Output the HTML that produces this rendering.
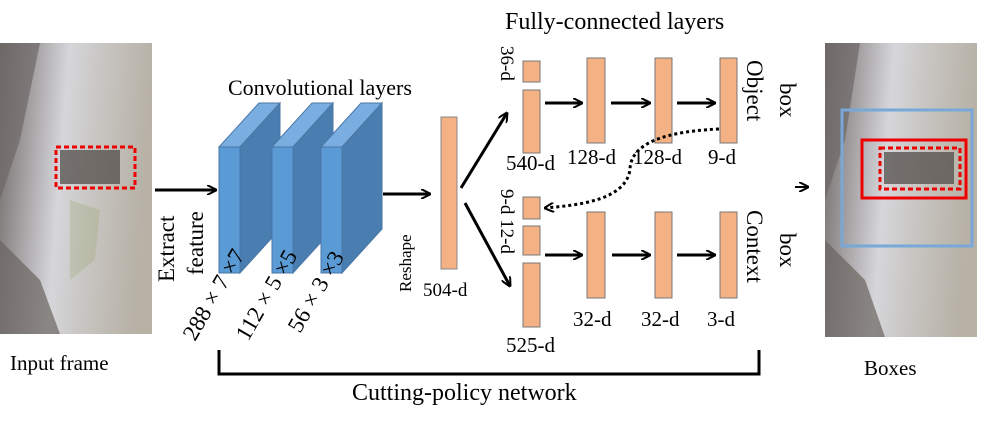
<!DOCTYPE html>
<html><head><meta charset="utf-8"><style>
html,body{margin:0;padding:0;background:#fff;}
svg{display:block;}
text{font-family:"Liberation Serif",serif;fill:#000;}
</style></head><body>
<svg width="984" height="424" viewBox="0 0 984 424" xmlns="http://www.w3.org/2000/svg">
<defs>
<linearGradient id="ph" x1="0" y1="0" x2="1" y2="0.15">
<stop offset="0" stop-color="#6f6a68"/>
<stop offset="0.25" stop-color="#a9a6a8"/>
<stop offset="0.45" stop-color="#d6d6da"/>
<stop offset="0.65" stop-color="#c9c7c4"/>
<stop offset="1" stop-color="#b7b1a6"/>
</linearGradient>
<marker id="ah" markerWidth="10" markerHeight="10" refX="9" refY="5" orient="auto" markerUnits="userSpaceOnUse"><path d="M0,0 L10,5 L0,10" fill="none" stroke="#000" stroke-width="2"/></marker>
</defs>
<!-- left photo -->
<rect x="0" y="43" width="152" height="291" fill="url(#ph)"/>
<polygon points="0,43 40,43 20,140 0,200" fill="#6e6866" opacity="0.7"/>
<polygon points="0,240 40,280 60,334 0,334" fill="#6a6460" opacity="0.7"/>
<polygon points="70,200 100,210 95,260 70,280" fill="#8fa060" opacity="0.25"/>
<rect x="60" y="150" width="60" height="34" fill="#4a4440" opacity="0.7"/>
<rect x="56" y="147" width="79" height="41" fill="none" stroke="#e00" stroke-width="3" stroke-dasharray="5,3"/>
<!-- right photo -->
<rect x="825" y="43" width="152" height="294" fill="url(#ph)"/>
<polygon points="825,43 860,43 845,140 825,200" fill="#6e6866" opacity="0.7"/>
<polygon points="825,240 865,280 885,337 825,337" fill="#6a6460" opacity="0.7"/>
<rect x="884" y="152" width="70" height="32" fill="#4a4440" opacity="0.7"/>
<rect x="842" y="110" width="130" height="136" fill="none" stroke="#78a8d8" stroke-width="3"/>
<rect x="862" y="140" width="104" height="58" fill="none" stroke="#e00" stroke-width="3"/>
<rect x="880" y="148" width="80" height="41" fill="none" stroke="#e00" stroke-width="3" stroke-dasharray="5,3"/>

<text x="10" y="370" font-size="21">Input frame</text>
<text x="864" y="375" font-size="21">Boxes</text>
<text x="228" y="95" font-size="22">Convolutional layers</text>
<text x="505" y="29" font-size="24">Fully-connected layers</text>

<!-- input arrow -->
<line x1="155" y1="190" x2="216" y2="190" stroke="#000" stroke-width="3" marker-end="url(#ah)"/>
<text transform="translate(174,282) rotate(-90)" font-size="23">Extract</text>
<text transform="translate(203,275) rotate(-90)" font-size="23">feature</text>

<!-- conv blocks -->
<g stroke="#4a76a6" stroke-width="1">
<polygon points="219,147 259,103 280,103 240,147" fill="#7aaee0"/>
<polygon points="240,147 280,103 280,229 240,273" fill="#4a7eb0"/>
<rect x="219" y="147" width="21" height="126" fill="#5b9bd5"/>
<polygon points="272,147 312,103 333,103 293,147" fill="#7aaee0"/>
<polygon points="293,147 333,103 333,229 293,273" fill="#4a7eb0"/>
<rect x="272" y="147" width="21" height="126" fill="#5b9bd5"/>
<polygon points="321,147 361,103 382,103 342,147" fill="#7aaee0"/>
<polygon points="342,147 382,103 382,229 342,273" fill="#4a7eb0"/>
<rect x="321" y="147" width="21" height="126" fill="#5b9bd5"/>
</g>
<text transform="translate(195,342) rotate(-60)" font-size="23">288 × 7 ×7</text>
<text transform="translate(248,342) rotate(-60)" font-size="23">112 × 5 ×5</text>
<text transform="translate(300,334) rotate(-60)" font-size="23">56 × 3 ×3</text>

<line x1="383" y1="194" x2="430" y2="194" stroke="#000" stroke-width="3" marker-end="url(#ah)"/>
<text transform="translate(411,292) rotate(-90)" font-size="17">Reshape</text>
<rect x="441" y="117" width="16" height="152" fill="#f4b183" stroke="#888"/>
<text x="423" y="296" font-size="19">504-d</text>

<line x1="461" y1="188" x2="507" y2="113" stroke="#000" stroke-width="3" marker-end="url(#ah)"/>
<line x1="465" y1="203" x2="510" y2="286" stroke="#000" stroke-width="3" marker-end="url(#ah)"/>

<!-- fc bars -->
<g fill="#f4b183" stroke="#777">
<rect x="523" y="61" width="17" height="21"/>
<rect x="523" y="90" width="17" height="63"/>
<rect x="587" y="58" width="18" height="85"/>
<rect x="655" y="58" width="17" height="85"/>
<rect x="720" y="58" width="17" height="85"/>
<rect x="523" y="197" width="17" height="22"/>
<rect x="523" y="226" width="17" height="29"/>
<rect x="523" y="263" width="17" height="64"/>
<rect x="587" y="212" width="18" height="86"/>
<rect x="655" y="212" width="17" height="86"/>
<rect x="720" y="212" width="17" height="86"/>
</g>
<g stroke="#000" stroke-width="3">
<line x1="545" y1="103" x2="582" y2="103" marker-end="url(#ah)"/>
<line x1="611" y1="103" x2="650" y2="103" marker-end="url(#ah)"/>
<line x1="677" y1="103" x2="715" y2="103" marker-end="url(#ah)"/>
<line x1="545" y1="255" x2="582" y2="255" marker-end="url(#ah)"/>
<line x1="612" y1="255" x2="650" y2="255" marker-end="url(#ah)"/>
<line x1="677" y1="255" x2="715" y2="255" marker-end="url(#ah)"/>
</g>
<path d="M719,129 C650,132 630,150 630,170 C625,200 580,205 545,208" fill="none" stroke="#000" stroke-width="3" stroke-dasharray="3,3" marker-end="url(#ah)"/>

<text transform="translate(501,46) rotate(90)" font-size="19">36-d</text>
<text transform="translate(501,189) rotate(90)" font-size="19">9-d 12-d</text>
<text x="506" y="170" font-size="21">540-d</text>
<text x="567" y="164" font-size="21">128-d</text>
<text x="633" y="164" font-size="21">128-d</text>
<text x="708" y="164" font-size="21">9-d</text>
<text x="573" y="326" font-size="21">32-d</text>
<text x="641" y="326" font-size="21">32-d</text>
<text x="707" y="326" font-size="21">3-d</text>
<text x="506" y="352" font-size="21">525-d</text>
<text transform="translate(747,60) rotate(90)" font-size="23">Object</text>
<text transform="translate(780,83) rotate(90)" font-size="23">box</text>
<text transform="translate(747,210) rotate(90)" font-size="23">Context</text>
<text transform="translate(780,233) rotate(90)" font-size="23">box</text>

<line x1="795" y1="187" x2="808" y2="187" stroke="#000" stroke-width="2" marker-end="url(#ah)"/>

<!-- bracket -->
<path d="M219,350 V374 H759 V350" fill="none" stroke="#000" stroke-width="3"/>
<text x="352" y="400" font-size="24">Cutting-policy  network</text>
</svg>
</body></html>
